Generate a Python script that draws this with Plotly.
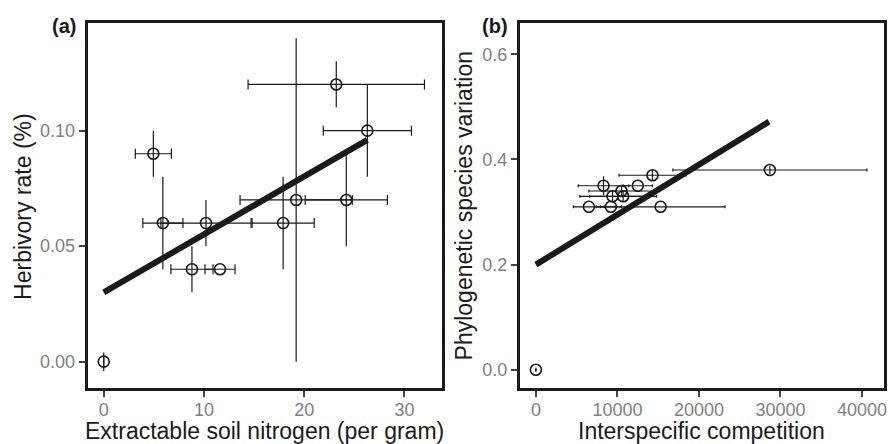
import plotly.graph_objects as go

# Panel (a): extractable soil nitrogen vs herbivory rate
nitrogen = [0, 4.95, 5.9, 10.2, 17.9, 8.8, 11.6, 19.2, 24.2, 23.2, 26.3]
herbivory = [0, 0.09, 0.06, 0.06, 0.06, 0.04, 0.04, 0.07, 0.07, 0.12, 0.10]
nitrogen_err = [0, 1.8, 2.0, 4.5, 3.1, 2.1, 1.5, 5.6, 4.1, 8.8, 4.4]
herbivory_err = [0.004, 0.01, 0.02, 0.01, 0.02, 0.01, 0.0, 0.07, 0.02, 0.01, 0.02]
fit_a_x = [0, 26.3]
fit_a_y = [0.030, 0.096]

# Panel (b): interspecific competition vs phylogenetic species variation
competition = [0, 8300, 12500, 14300, 28700, 10500, 9400, 10700, 6500, 9200, 15300]
psv = [0, 0.35, 0.35, 0.37, 0.38, 0.34, 0.33, 0.33, 0.31, 0.31, 0.31]
competition_err = [0, 3100, 1800, 4100, 11900, 4000, 4000, 4100, 1900, 1300, 7900]
psv_err = [0.004, 0.018, 0, 0.01, 0.008, 0.01, 0.01, 0.01, 0, 0, 0]
fit_b_x = [0, 28600]
fit_b_y = [0.20, 0.472]

a_xticks = [0, 10, 20, 30]
a_yticks = [0.00, 0.05, 0.10]
b_xticks = [0, 10000, 20000, 30000, 40000]
b_yticks = [0.0, 0.2, 0.4, 0.6]

FONT = "Liberation Sans, Arial, Helvetica, sans-serif"
INK = "#1a1a1a"
GREY = "#7f7f7f"

fig = go.Figure()

fig.add_trace(go.Scatter(
    x=nitrogen, y=herbivory, mode="markers",
    error_x=dict(type="data", array=nitrogen_err, color=INK, thickness=1.2, width=5),
    error_y=dict(type="data", array=herbivory_err, color=INK, thickness=1.2, width=0),
    marker=dict(symbol="circle-open", size=11, color=INK, line=dict(width=1.6, color=INK)),
    xaxis="x", yaxis="y", showlegend=False))
fig.add_trace(go.Scatter(
    x=fit_a_x, y=fit_a_y, mode="lines", line=dict(color=INK, width=6),
    xaxis="x", yaxis="y", showlegend=False))

fig.add_trace(go.Scatter(
    x=competition, y=psv, mode="markers",
    error_x=dict(type="data", array=competition_err, color=INK, thickness=1.2, width=1.5),
    error_y=dict(type="data", array=psv_err, color=INK, thickness=1.2, width=0),
    marker=dict(symbol="circle-open", size=11, color=INK, line=dict(width=1.6, color=INK)),
    xaxis="x2", yaxis="y2", showlegend=False))
fig.add_trace(go.Scatter(
    x=fit_b_x, y=fit_b_y, mode="lines", line=dict(color=INK, width=6),
    xaxis="x2", yaxis="y2", showlegend=False))

W, H = 892, 444
ya_dom = [1 - 388 / H, 1 - 23 / H]

axis_common = dict(
    showline=True, linecolor=INK, linewidth=3, mirror=True,
    ticks="outside", ticklen=6, tickwidth=2, tickcolor="#444444",
    showgrid=False, zeroline=False,
    tickfont=dict(family=FONT, size=18, color=GREY),
)

fig.update_layout(
    width=W, height=H,
    margin=dict(l=0, r=0, t=0, b=0),
    paper_bgcolor="white", plot_bgcolor="white",
    font=dict(family=FONT),
    xaxis=dict(domain=[88 / W, 443 / W], range=[-1.6, 33.7], tickvals=a_xticks,
               ticktext=[str(v) for v in a_xticks], anchor="y",
               ticklabelstandoff=-3, **axis_common),
    yaxis=dict(domain=ya_dom, range=[-0.0114, 0.1466], tickvals=a_yticks,
               ticktext=[f"{v:.2f}" for v in a_yticks], anchor="x", **axis_common),
    xaxis2=dict(domain=[521.7 / W, 886.7 / W], range=[-1956, 42665], tickvals=b_xticks,
                ticktext=[str(v) for v in b_xticks], anchor="y2",
                ticklabelstandoff=-3, **axis_common),
    yaxis2=dict(domain=ya_dom, range=[-0.0348, 0.6597], tickvals=b_yticks,
                ticktext=[f"{v:.1f}" for v in b_yticks], anchor="x2", **axis_common),
)

def ann(text, x, y, size, angle=0, bold=False):
    fig.add_annotation(
        text=f"<b>{text}</b>" if bold else text,
        x=x / W, y=1 - y / H, xref="paper", yref="paper",
        showarrow=False, textangle=angle,
        xanchor="center", yanchor="middle",
        font=dict(family=FONT, size=size, color=INK))

ann("Extractable soil nitrogen (per gram)", 265, 431, 23)
ann("Interspecific competition", 704, 431, 23)
ann("Herbivory rate (%)", 23, 206, 23, angle=-90)
ann("Phylogenetic species variation", 466, 206, 23, angle=-90)
ann("(a)", 64.5, 26, 20, bold=True)
ann("(b)", 497, 26, 20, bold=True)

fig.write_html(
    "out.html",
    config={"displayModeBar": False},
    post_script="document.body.style.margin='0';document.body.style.overflow='hidden';",
)
